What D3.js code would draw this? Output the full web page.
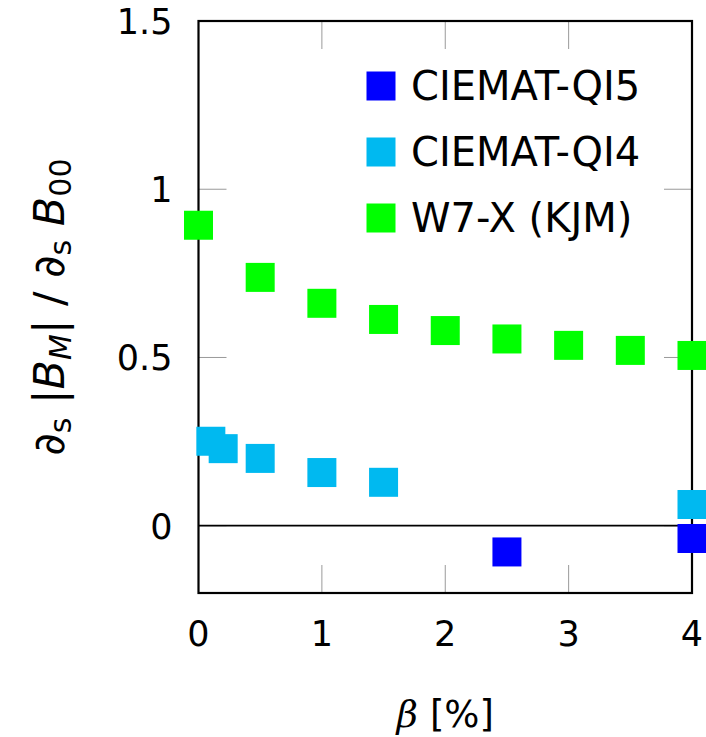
<!DOCTYPE html>
<html>
<head>
<meta charset="utf-8">
<script src="https://cdn.jsdelivr.net/npm/d3@7"></script>
<style>
  body { margin: 0; background: #fff; }
  text { font-family: "DejaVu Sans", sans-serif; fill: #000; }
</style>
</head>
<body>
<div id="content"></div>
<script>
// series names and colours
var seriesNames = ["CIEMAT-QI5", "CIEMAT-QI4", "W7-X (KJM)"];
var seriesColours = ["#0000ff", "#00b9f0", "#00ff00"];

// beta [%] and d_s|B_M| / d_s B00 per series
var qi5Beta = [2.5, 4];
var qi5Val = [-0.078, -0.038];

var qi4Beta = [0.1, 0.2, 0.5, 1, 1.5, 4];
var qi4Val = [0.251, 0.229, 0.2, 0.158, 0.129, 0.063];

var w7xBeta = [0, 0.5, 1, 1.5, 2, 2.5, 3, 3.5, 4];
var w7xVal = [0.893, 0.738, 0.661, 0.613, 0.58, 0.555, 0.536, 0.521, 0.506];

var xTicks = [0, 1, 2, 3, 4];
var yTicks = [0, 0.5, 1, 1.5];

var width = 706, height = 737;
var plotLeft = 198.5, plotRight = 692, plotTop = 21, plotBottom = 593;
var marker = 29;
var font_size = 35;

var x = d3.scaleLinear().domain([0, 4]).range([plotLeft, plotRight]);
var y = d3.scaleLinear().domain([-0.2, 1.5]).range([plotBottom, plotTop]);

var chart = d3.select("#content")
  .append("svg")
  .attr("width", width)
  .attr("height", height);

// inward ticks on all four sides
var tickLen = 28;
var ticks = chart.append("g").attr("stroke", "#9a9a9a").attr("stroke-width", 1);
xTicks.forEach(function(t) {
    ticks.append("line").attr("x1", x(t)).attr("x2", x(t)).attr("y1", plotBottom).attr("y2", plotBottom - tickLen);
    ticks.append("line").attr("x1", x(t)).attr("x2", x(t)).attr("y1", plotTop).attr("y2", plotTop + tickLen);
});
yTicks.forEach(function(t) {
    ticks.append("line").attr("y1", y(t)).attr("y2", y(t)).attr("x1", plotLeft).attr("x2", plotLeft + tickLen);
    ticks.append("line").attr("y1", y(t)).attr("y2", y(t)).attr("x1", plotRight).attr("x2", plotRight - tickLen);
});

// zero line
chart.append("line")
  .attr("x1", plotLeft).attr("x2", plotRight)
  .attr("y1", y(0)).attr("y2", y(0))
  .attr("stroke", "#000").attr("stroke-width", 1.8);

// frame
chart.append("rect")
  .attr("x", plotLeft).attr("y", plotTop)
  .attr("width", plotRight - plotLeft).attr("height", plotBottom - plotTop)
  .attr("fill", "none").attr("stroke", "#000").attr("stroke-width", 2.2);

// tick labels
xTicks.forEach(function(t) {
    chart.append("text")
      .attr("x", x(t)).attr("y", 646)
      .attr("text-anchor", "middle")
      .attr("font-size", font_size + "px")
      .text(d3.format("")(t));
});
yTicks.forEach(function(t) {
    chart.append("text")
      .attr("x", plotLeft - 26).attr("y", y(t) + 13)
      .attr("text-anchor", "end")
      .attr("font-size", font_size + "px")
      .text(d3.format("")(t));
});

// markers
function drawSeries(xs, vs, colour) {
    chart.append("g").selectAll("rect")
      .data(xs)
      .enter().append("rect")
      .attr("x", function(d) { return x(d) - marker / 2; })
      .attr("y", function(d, i) { return y(vs[i]) - marker / 2; })
      .attr("width", marker).attr("height", marker)
      .attr("fill", colour);
}
drawSeries(w7xBeta, w7xVal, seriesColours[2]);
drawSeries(qi4Beta, qi4Val, seriesColours[1]);
drawSeries(qi5Beta, qi5Val, seriesColours[0]);

// legend
seriesNames.forEach(function(name, i) {
    var ly = 86 + i * 66;
    chart.append("rect")
      .attr("x", 381 - marker / 2).attr("y", ly - marker / 2)
      .attr("width", marker).attr("height", marker)
      .attr("fill", seriesColours[i]);
    chart.append("text")
      .attr("x", 411).attr("y", ly + 14)
      .attr("font-size", "40px")
      .text(name);
});

// axis titles
chart.append("text")
  .attr("x", (plotLeft + plotRight) / 2).attr("y", 727)
  .attr("text-anchor", "middle")
  .attr("font-size", "37px")
  .html('<tspan font-family="DejaVu Serif" font-style="italic">β</tspan><tspan dx="12">[%]</tspan>');

chart.append("text")
  .attr("transform", "translate(64," + ((plotTop + plotBottom) / 2) + ") rotate(-90)")
  .attr("text-anchor", "middle")
  .attr("font-size", "43px")
  .html('<tspan font-style="italic">∂</tspan><tspan font-size="30px" dy="7">s</tspan><tspan dy="-7"> |</tspan><tspan font-style="italic">B</tspan><tspan font-size="30px" font-style="italic" dy="7">M</tspan><tspan dy="-7">| / </tspan><tspan font-style="italic">∂</tspan><tspan font-size="30px" dy="7">s</tspan><tspan dy="-7"> </tspan><tspan font-style="italic">B</tspan><tspan font-size="30px" dy="7">00</tspan>');
</script>
</body>
</html>
